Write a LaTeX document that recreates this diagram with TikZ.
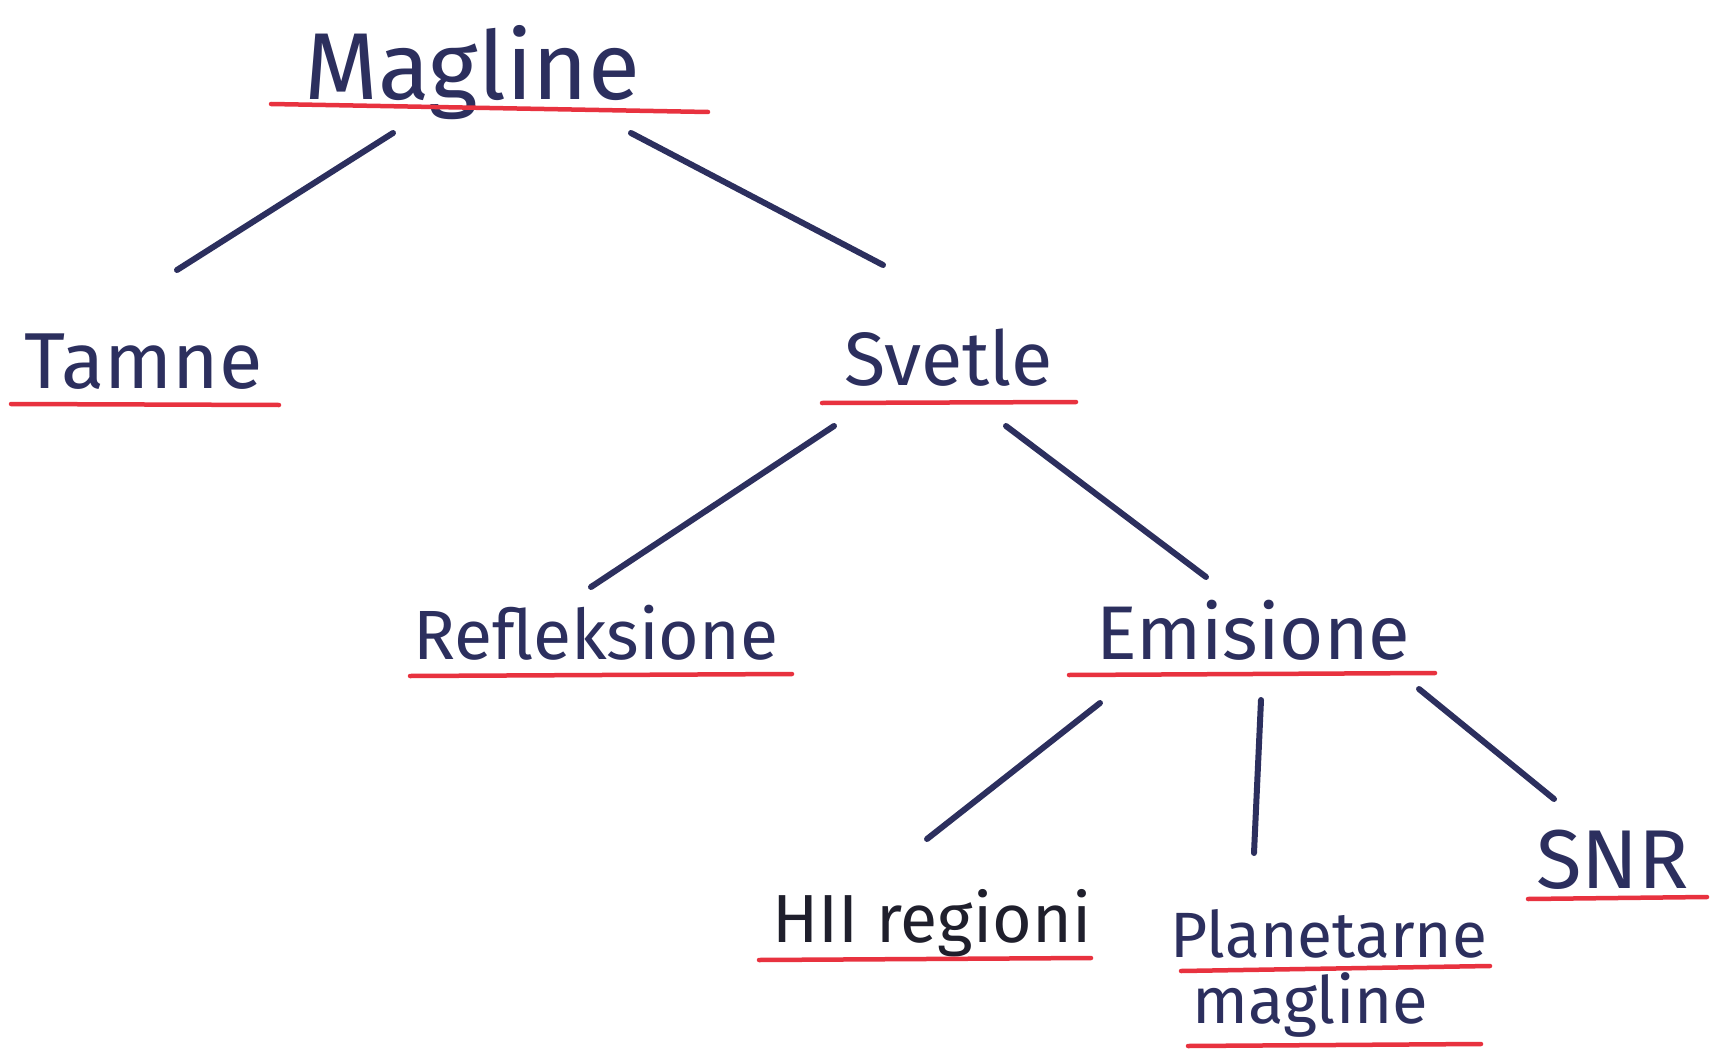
\documentclass[tikz,border=0pt]{standalone}
\usepackage{fontspec}
\setmainfont{Fira Sans}
\usepackage{graphicx}
\definecolor{ink}{HTML}{2C2F5E}
\definecolor{inkdark}{HTML}{1F1F2C}
\definecolor{redline}{HTML}{E8323F}
\newcommand\fitw[2]{\resizebox{#1}{!}{#2}}
\begin{document}
\begin{tikzpicture}[x=1pt,y=-1pt,
  lbl/.style={anchor=base west, inner sep=0pt, text=ink, font=\fontsize{60}{70}\selectfont},
  link/.style={draw=ink, line width=6pt, line cap=round},
  uline/.style={draw=redline, line width=4.5pt, line cap=round}]
\useasboundingbox[fill=white] (0,0) rectangle (1714,1054);

% labels
\node[lbl] (magline) at (304,100) {\fitw{336pt}{Magline}};
\node[lbl] (tamne) at (24,388) {\fitw{238pt}{Tamne}};
\node[lbl] (svetle) at (844,385) {\fitw{208pt}{Svetle}};
\node[lbl] (refl) at (413,659) {\fitw{365pt}{Refleksione}};
\node[lbl] (emis) at (1096,659) {\fitw{314pt}{Emisione}};
\node[lbl, text=inkdark] (hii) at (772,942) {\fitw{319pt}{HII regioni}};
\node[lbl] (plan) at (1170,957) {\fitw{317pt}{Planetarne}};
\node[lbl] (plan2) at (1192,1023) {\fitw{236pt}{magline}};
\node[lbl] (snr) at (1536,888) {\fitw{153pt}{SNR}};

% underlines
\draw[uline] (271,104) -- (708,112);
\draw[uline] (11,404) -- (279,405);
\draw[uline] (822,403) -- (1076,402);
\draw[uline] (410,676) -- (792,674);
\draw[uline] (1069,675) -- (1435,673);
\draw[uline] (759,960) -- (1091,958);
\draw[uline] (1181,971) -- (1490,966);
\draw[uline] (1188,1046) -- (1481,1044);
\draw[uline] (1528,899) -- (1707,897);

% connector end points
\coordinate (m1) at (393,133);  \coordinate (t1) at (177,270);
\coordinate (m2) at (631,133);  \coordinate (s1) at (883,265);
\coordinate (s2) at (834,426);  \coordinate (r1) at (591,587);
\coordinate (s3) at (1006,426); \coordinate (e1) at (1206,577);
\coordinate (e2) at (1100,703); \coordinate (h1) at (927,839);
\coordinate (e3) at (1261,700); \coordinate (p1) at (1254,853);
\coordinate (e4) at (1419,689); \coordinate (n1) at (1554,799);

\draw[link] (m1) -- (t1);
\draw[link] (m2) -- (s1);
\draw[link] (s2) -- (r1);
\draw[link] (s3) -- (e1);
\draw[link] (e2) -- (h1);
\draw[link] (e3) -- (p1);
\draw[link] (e4) -- (n1);
\end{tikzpicture}
\end{document}
